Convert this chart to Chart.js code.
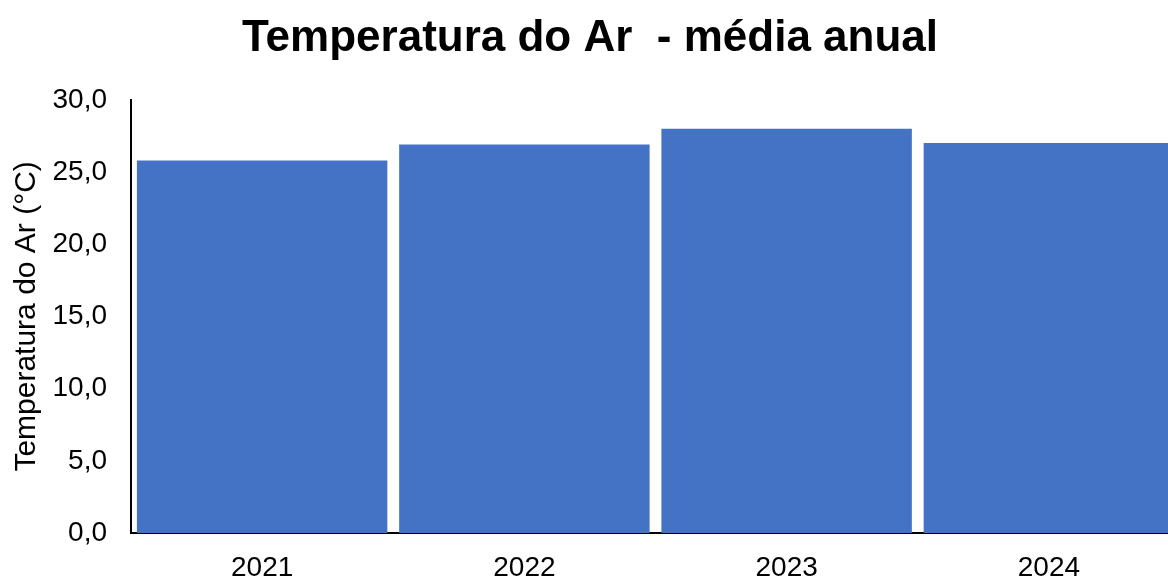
<!DOCTYPE html>
<html lang="pt-BR">
<head>
<meta charset="utf-8">
<title>Temperatura do Ar - média anual</title>
<script src="https://cdn.jsdelivr.net/npm/chart.js@4"></script>
<style>
    html, body { margin: 0; padding: 0; background: #fff; overflow: hidden; }
    #wrap { position: absolute; left: 0; top: 0; width: 1180px; height: 579px; }
</style>
</head>
<body>
<div id="wrap"><canvas id="grafico"></canvas></div>
<script>
// Dados do gráfico
const anos = ['2021', '2022', '2023', '2024'];
const temperaturaMedia = [25.8, 26.9, 28.0, 27.0];
const ticksY = [0, 5, 10, 15, 20, 25, 30];

const fonte = '"Liberation Sans", Arial, sans-serif';

// Formata número com vírgula decimal
function formatarValor(v) {
    return v.toFixed(1).replace('.', ',');
}

document.addEventListener('DOMContentLoaded', function() {
    const ctx = document.getElementById('grafico');

    new Chart(ctx, {
        type: 'bar',
        data: {
            labels: anos,
            datasets: [{
                label: 'Temperatura do Ar',
                data: temperaturaMedia,
                backgroundColor: '#4472C4',
                borderWidth: 0,
                categoryPercentage: 0.955,
                barPercentage: 1.0
            }]
        },
        options: {
            responsive: true,
            maintainAspectRatio: false,
            animation: false,
            layout: { padding: { left: 0, right: 0, top: 0, bottom: 0 } },
            plugins: {
                legend: { display: false },
                tooltip: { enabled: false },
                title: {
                    display: true,
                    text: 'Temperatura do Ar  - média anual',
                    color: '#000',
                    font: { family: fonte, size: 44, weight: 'bold' },
                    padding: { top: 12, bottom: 35 }
                }
            },
            scales: {
                x: {
                    grid: { display: false, drawTicks: false },
                    border: { display: true, color: '#000', width: 2 },
                    ticks: {
                        color: '#000',
                        font: { family: fonte, size: 28 },
                        padding: 18,
                        maxRotation: 0
                    },
                    afterFit: function(scale) { scale.height = 46; }
                },
                y: {
                    min: 0,
                    max: 30,
                    afterBuildTicks: function(scale) {
                        scale.ticks = ticksY.map(v => ({ value: v }));
                    },
                    grid: { display: false, drawTicks: false },
                    border: { display: true, color: '#000', width: 2 },
                    ticks: {
                        color: '#000',
                        font: { family: fonte, size: 28 },
                        padding: 24,
                        callback: function(value) { return formatarValor(value); }
                    },
                    title: {
                        display: true,
                        text: 'Temperatura do Ar (°C)',
                        color: '#000',
                        font: { family: fonte, size: 30 },
                        padding: { top: 9, bottom: 0 }
                    },
                    afterFit: function(scale) { scale.width = 131; }
                }
            }
        }
    });
});
</script>
</body>
</html>
